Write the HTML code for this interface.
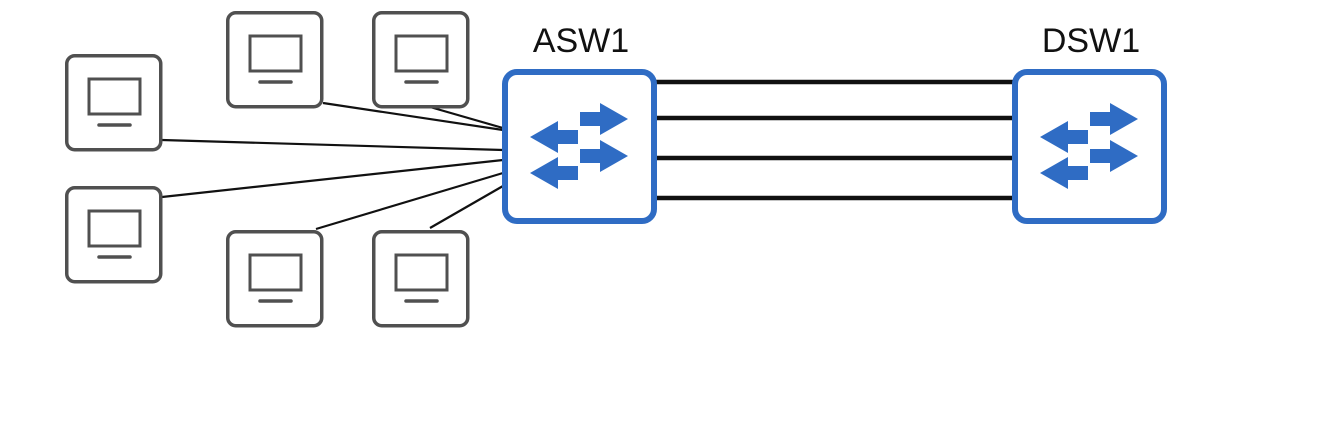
<!DOCTYPE html>
<html><head><style>body{margin:0;background:#fff}svg{display:block}</style></head><body>
<svg width="1330" height="439" viewBox="0 0 1330 439" xmlns="http://www.w3.org/2000/svg">
<defs>
<g id="pc">
<rect x="1.75" y="1.75" width="94" height="94" rx="8" fill="#fff" stroke="#505050" stroke-width="3.5"/>
<rect x="24" y="25" width="51" height="35" fill="none" stroke="#505050" stroke-width="3"/>
<line x1="34" y1="71" x2="65" y2="71" stroke="#505050" stroke-width="3.5" stroke-linecap="round"/>
</g>
<g id="sw">
<rect x="3" y="3" width="149" height="149" rx="12" fill="#fff" stroke="#2f6cc4" stroke-width="6"/>
<g fill="#2f6cc4">
<path d="M78 43 h20 v-9 l28 16 l-28 16 v-9 h-20z"/>
<path d="M78 80 h20 v-9 l28 16 l-28 16 v-9 h-20z"/>
<path d="M76 61 h-20 v-9 l-28 16 l28 16 v-9 h20z"/>
<path d="M76 97 h-20 v-9 l-28 16 l28 16 v-9 h20z"/>
</g>
</g>
</defs>
<g stroke="#111" stroke-width="2.2">
<line x1="323" y1="103" x2="503" y2="130"/>
<line x1="430" y1="107" x2="503" y2="128"/>
<line x1="162" y1="140" x2="503" y2="150"/>
<line x1="162" y1="197" x2="503" y2="160"/>
<line x1="316" y1="229" x2="503" y2="173"/>
<line x1="430" y1="228" x2="503" y2="186"/>
</g>
<g stroke="#111" stroke-width="4.5">
<line x1="656" y1="82" x2="1013" y2="82"/>
<line x1="656" y1="118" x2="1013" y2="118"/>
<line x1="656" y1="158" x2="1013" y2="158"/>
<line x1="656" y1="198" x2="1013" y2="198"/>
</g>
<use href="#pc" x="65" y="54"/>
<use href="#pc" x="226" y="11"/>
<use href="#pc" x="372" y="11"/>
<use href="#pc" x="65" y="186"/>
<use href="#pc" x="226" y="230"/>
<use href="#pc" x="372" y="230"/>
<use href="#sw" x="502" y="69"/>
<use href="#sw" x="1012" y="69"/>
<text x="581" y="52" font-family="Liberation Sans, sans-serif" font-size="34" text-anchor="middle" fill="#111">ASW1</text>
<text x="1091" y="52" font-family="Liberation Sans, sans-serif" font-size="34" text-anchor="middle" fill="#111">DSW1</text>
</svg>
</body></html>
